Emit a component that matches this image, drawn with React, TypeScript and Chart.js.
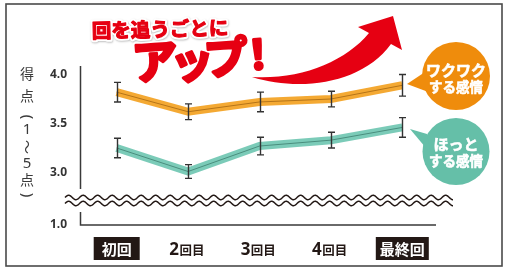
import React, { useEffect, useRef } from 'react';
import { Chart, registerables } from 'chart.js';

Chart.register(...registerables);

const categories = ['初回', '2回目', '3回目', '4回目', '最終回'];
const wakuwakuValues = [3.82, 3.62, 3.72, 3.75, 3.89];
const wakuwakuErrors = [0.1, 0.08, 0.1, 0.08, 0.11];
const hottoValues = [3.25, 3.01, 3.27, 3.33, 3.46];
const hottoErrors = [0.1, 0.07, 0.09, 0.08, 0.1];
const yTickValues = [3.0, 3.5, 4.0];
const yBreakTickLabel = '1.0';
const titleLine1 = '回を追うごとに';
const titleLine2 = ['ア', 'ッ', 'プ', '！'];
const wakuwakuLabel = ['ワクワク', 'する感情'];
const hottoLabel = ['ほっと', 'する感情'];
const yTitleChars = ['得', '点', '（', '1', '～', '5', '点', '）'];

// axis-break: the bottom of the scale stands for "1.0"
const Y_BREAK_VALUE = 2.464;
const Y_MAX = 4.087;

const JP = '"Noto Sans CJK JP", "Noto Sans", sans-serif';
const RED = '#E60012';
const ORANGE_BAND = 'rgba(243,162,34,0.92)';
const ORANGE_LINE = '#B57418';
const TEAL_BAND = 'rgba(112,199,178,0.92)';
const TEAL_LINE = '#4A8E7E';
const DARK = '#231815';

function drawWave(ctx: CanvasRenderingContext2D, x0: number, x1: number, y: number, amp: number, wl: number) {
  ctx.beginPath();
  for (let x = x0; x <= x1; x += 0.5) {
    const yy = y - amp * Math.sin(((x - x0) / wl) * 2 * Math.PI);
    if (x === x0) ctx.moveTo(x, yy);
    else ctx.lineTo(x, yy);
  }
  ctx.stroke();
}

const decorPlugin = {
  id: 'decor',
  beforeDraw(chart: any) {
    const ctx: CanvasRenderingContext2D = chart.ctx;
    ctx.save();
    ctx.fillStyle = '#ffffff';
    ctx.fillRect(0, 0, chart.width, chart.height);
    ctx.strokeStyle = '#4a4a4a';
    ctx.lineWidth = 1.6;
    ctx.strokeRect(6, 4, 496, 262);
    ctx.restore();
  },
  afterDatasetsDraw(chart: any) {
    const ctx: CanvasRenderingContext2D = chart.ctx;
    const xs = chart.scales.x;
    const ys = chart.scales.y;
    const area = chart.chartArea;
    ctx.save();

    // error bars
    const drawErr = (vals: number[], errs: number[]) => {
      ctx.strokeStyle = '#333333';
      ctx.lineWidth = 1.4;
      vals.forEach((v, i) => {
        const x = Math.round(xs.getPixelForValue(i)) + 0.5;
        const t = ys.getPixelForValue(v + errs[i]);
        const b = ys.getPixelForValue(v - errs[i]);
        ctx.beginPath();
        ctx.moveTo(x, t);
        ctx.lineTo(x, b);
        ctx.moveTo(x - 3.5, t);
        ctx.lineTo(x + 3.5, t);
        ctx.moveTo(x - 3.5, b);
        ctx.lineTo(x + 3.5, b);
        ctx.stroke();
      });
    };
    drawErr(wakuwakuValues, wakuwakuErrors);
    drawErr(hottoValues, hottoErrors);

    // axes with break
    const y3 = ys.getPixelForValue(3.0);
    const ax = area.left - 0.5;
    ctx.strokeStyle = '#3a3a3a';
    ctx.lineWidth = 1.5;
    ctx.beginPath();
    ctx.moveTo(ax, area.top);
    ctx.lineTo(ax, y3 + 16.5);
    ctx.moveTo(ax, y3 + 39.5);
    ctx.lineTo(ax, area.bottom);
    ctx.lineTo(area.right - 2, area.bottom);
    ctx.stroke();

    ctx.strokeStyle = DARK;
    ctx.lineWidth = 1.5;
    drawWave(ctx, 65, 453, y3 + 25, 2.2, 14.5);
    drawWave(ctx, 65, 453, y3 + 31, 2.2, 14.5);

    // x labels
    const ly = 248.5;
    categories.forEach((c, i) => {
      const x = xs.getPixelForValue(i);
      if (i === 0 || i === categories.length - 1) {
        ctx.font = `bold 15px ${JP}`;
        const w = i === 0 ? 46 : 53;
        ctx.fillStyle = DARK;
        ctx.fillRect(x - w / 2, 237, w, 23);
        ctx.fillStyle = '#ffffff';
        ctx.textAlign = 'center';
        ctx.textBaseline = 'middle';
        ctx.fillText(c, x, ly + 0.5);
      } else {
        const num = c.replace('回目', '');
        const rest = '回目';
        ctx.font = `bold 17px "Noto Sans", sans-serif`;
        const wn = ctx.measureText(num).width;
        ctx.font = `bold 12.5px ${JP}`;
        const wr = ctx.measureText(rest).width;
        const x0 = x - (wn + wr) / 2 - 1.5;
        ctx.fillStyle = DARK;
        ctx.textAlign = 'left';
        ctx.textBaseline = 'alphabetic';
        ctx.font = `bold 17px "Noto Sans", sans-serif`;
        ctx.fillText(num, x0, 255);
        ctx.font = `bold 12.5px ${JP}`;
        ctx.fillText(rest, x0 + wn + 0.5, 254.5);
      }
    });

    // y title (vertical)
    const yPos = [74, 96, 117, 130, 147, 164, 180, 195];
    ctx.fillStyle = '#3a3a3a';
    ctx.textAlign = 'center';
    ctx.textBaseline = 'middle';
    yTitleChars.forEach((ch, i) => {
      ctx.save();
      ctx.translate(27, yPos[i]);
      if (ch === '（' || ch === '）') {
        ctx.rotate(Math.PI / 2);
        ctx.font = `15px "Noto Sans", sans-serif`;
        ctx.fillText(ch === '（' ? '(' : ')', 0, 0);
      } else if (ch === '～') {
        ctx.rotate(Math.PI / 2);
        ctx.font = `14px ${JP}`;
        ctx.fillText(ch, 0, 0);
      } else if (ch === '1' || ch === '5') {
        ctx.font = `15px "Noto Sans", sans-serif`;
        ctx.fillText(ch, 0, 0);
      } else {
        ctx.font = `14px ${JP}`;
        ctx.fillText(ch, 0, 0);
      }
      ctx.restore();
    });

    // red arrow
    ctx.fillStyle = RED;
    ctx.beginPath();
    ctx.moveTo(252, 77);
    ctx.bezierCurveTo(300, 80, 345, 62, 369, 33);
    ctx.lineTo(358, 27);
    ctx.lineTo(393, 16);
    ctx.lineTo(402, 50);
    ctx.lineTo(391, 44);
    ctx.bezierCurveTo(362, 84, 300, 92, 252, 77);
    ctx.closePath();
    ctx.fill();

    // title line 1
    ctx.save();
    ctx.translate(160, 29);
    ctx.rotate(-0.025);
    ctx.font = `bold 19.5px ${JP}`;
    ctx.textAlign = 'center';
    ctx.textBaseline = 'middle';
    ctx.lineJoin = 'round';
    ctx.shadowColor = 'rgba(0,0,0,0.25)';
    ctx.shadowBlur = 2;
    ctx.shadowOffsetX = 0.5;
    ctx.shadowOffsetY = 1;
    ctx.strokeStyle = '#ffffff';
    ctx.lineWidth = 5;
    ctx.strokeText(titleLine1, 0, 0);
    ctx.shadowColor = 'transparent';
    ctx.strokeStyle = RED;
    ctx.lineWidth = 1.2;
    ctx.strokeText(titleLine1, 0, 0);
    ctx.fillStyle = RED;
    ctx.fillText(titleLine1, 0, 0);
    ctx.restore();

    // title line 2
    const cx = [155, 192, 226, 258];
    const cy = [61, 61, 57, 54];
    const sz = [46, 44, 44, 40];
    titleLine2.forEach((ch, i) => {
      ctx.save();
      ctx.translate(cx[i], cy[i]);
      ctx.rotate(-0.07);
      ctx.font = `bold ${sz[i]}px ${JP}`;
      ctx.textAlign = 'center';
      ctx.textBaseline = 'middle';
      ctx.lineJoin = 'round';
      ctx.strokeStyle = '#ffffff';
      ctx.lineWidth = 6;
      ctx.strokeText(ch, 0, 0);
      ctx.strokeStyle = RED;
      ctx.lineWidth = 3;
      ctx.strokeText(ch, 0, 0);
      ctx.fillStyle = RED;
      ctx.fillText(ch, 0, 0);
      ctx.restore();
    });

    // bubbles
    const bubble = (cxp: number, cyp: number, r: number, color: string, tail: number[][], lines: string[], ly1: number, ly2: number, f1: number) => {
      ctx.fillStyle = color;
      ctx.beginPath();
      ctx.arc(cxp, cyp, r, 0, Math.PI * 2);
      ctx.fill();
      ctx.beginPath();
      ctx.moveTo(tail[0][0], tail[0][1]);
      ctx.lineTo(tail[1][0], tail[1][1]);
      ctx.lineTo(tail[2][0], tail[2][1]);
      ctx.closePath();
      ctx.fill();
      ctx.fillStyle = '#ffffff';
      ctx.strokeStyle = '#ffffff';
      ctx.lineWidth = 0.6;
      ctx.textAlign = 'center';
      ctx.textBaseline = 'middle';
      ctx.font = `bold ${f1}px ${JP}`;
      ctx.fillText(lines[0], cxp, ly1);
      ctx.strokeText(lines[0], cxp, ly1);
      ctx.font = `bold 13.5px ${JP}`;
      ctx.fillText(lines[1], cxp, ly2);
      ctx.strokeText(lines[1], cxp, ly2);
    };
    bubble(456, 76, 34, '#EF8C0C', [[407, 84], [428, 70], [431, 93]], wakuwakuLabel, 70.5, 87, 15);
    bubble(456, 151.5, 33.5, '#65BFA8', [[410, 129], [427, 134], [431, 154]], hottoLabel, 144, 160.5, 15);

    ctx.restore();
  },
};

export default function App() {
  const ref = useRef<HTMLCanvasElement>(null);
  useEffect(() => {
    if (!ref.current) return;
    const chart = new Chart(ref.current, {
      type: 'line',
      data: {
        labels: categories,
        datasets: [
          { label: 'ワクワクする感情', data: wakuwakuValues, borderColor: ORANGE_LINE, borderWidth: 1, pointRadius: 0, order: 0 },
          { label: 'ワクワク帯', data: wakuwakuValues, borderColor: ORANGE_BAND, borderWidth: 8, pointRadius: 0, borderJoinStyle: 'miter', order: 1 },
          { label: 'ほっとする感情', data: hottoValues, borderColor: TEAL_LINE, borderWidth: 1, pointRadius: 0, order: 0 },
          { label: 'ほっと帯', data: hottoValues, borderColor: TEAL_BAND, borderWidth: 8, pointRadius: 0, borderJoinStyle: 'miter', order: 1 },
        ] as any,
      },
      options: {
        animation: false,
        responsive: false,
        devicePixelRatio: 1,
        layout: { padding: { left: 0, right: 79, top: 66, bottom: 43 } },
        plugins: { legend: { display: false }, tooltip: { enabled: false } },
        scales: {
          x: { type: 'category', offset: true, display: false },
          y: {
            type: 'linear',
            min: Y_BREAK_VALUE,
            max: Y_MAX,
            afterFit: (s: any) => {
              s.width = 81;
            },
            afterBuildTicks: (s: any) => {
              s.ticks = [Y_BREAK_VALUE, ...yTickValues].map((v) => ({ value: v }));
            },
            grid: { display: false, drawTicks: false },
            border: { display: false },
            ticks: {
              padding: 14,
              color: '#333333',
              font: { family: '"Noto Sans", sans-serif', weight: 'bold', size: 12 },
              callback: (v: any) => (Math.abs(v - Y_BREAK_VALUE) < 1e-6 ? yBreakTickLabel : Number(v).toFixed(1)),
            },
          },
        },
      } as any,
      plugins: [decorPlugin],
    });
    return () => chart.destroy();
  }, []);
  return (
    <div style={{ position: 'absolute', left: 0, top: 0, width: 517, height: 268 }}>
      <canvas ref={ref} width={517} height={268} style={{ display: 'block', width: 517, height: 268 }} />
    </div>
  );
}
